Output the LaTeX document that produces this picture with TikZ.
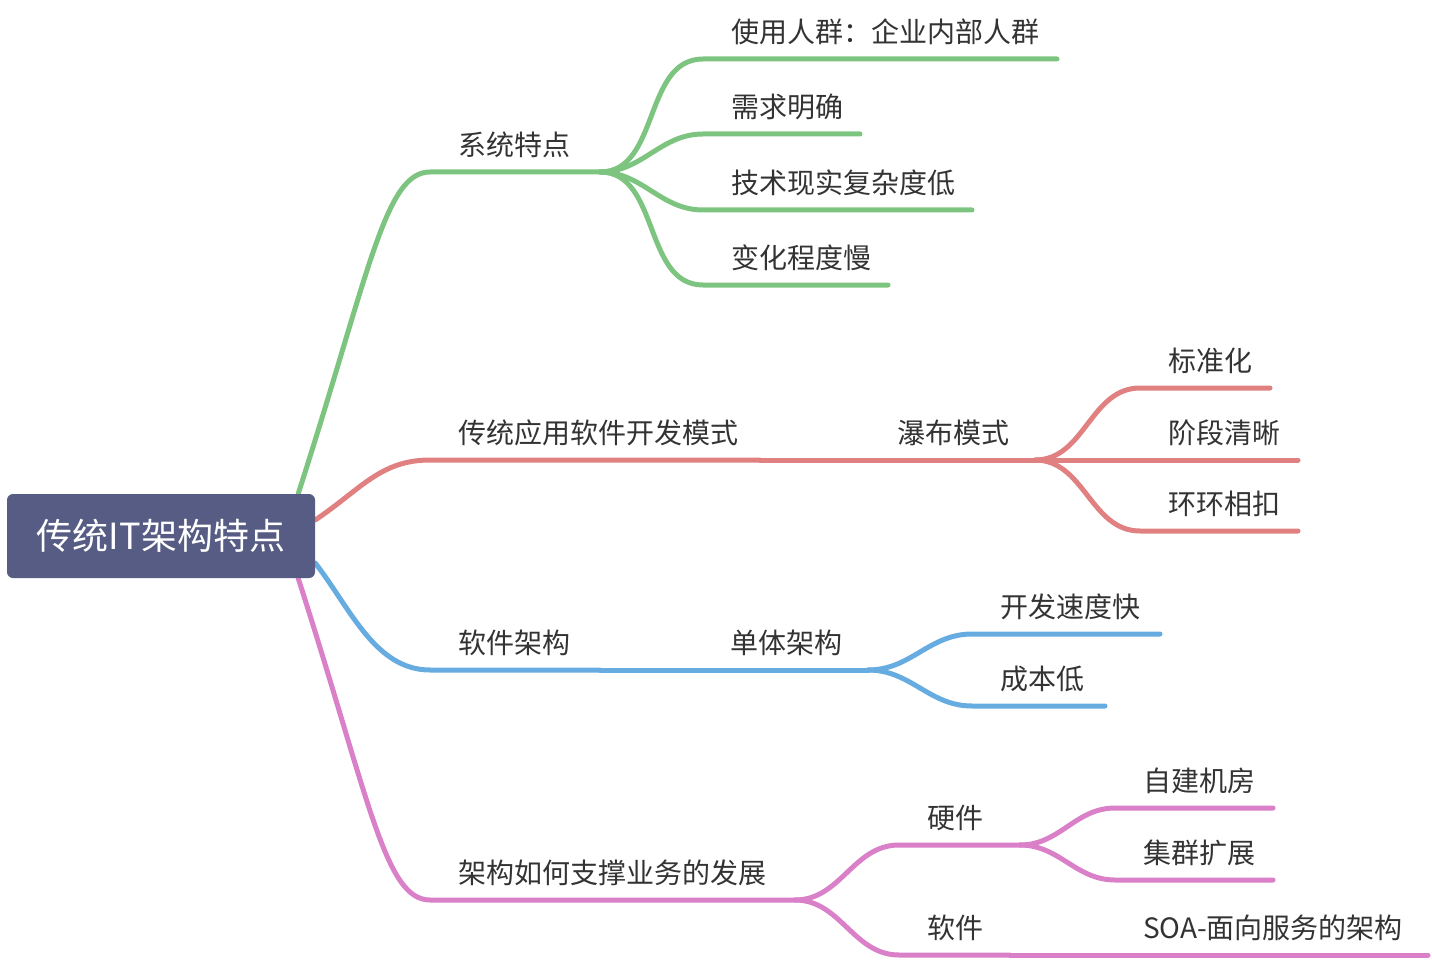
\documentclass[tikz,border=0pt]{standalone}
\usepackage{fontspec}
\setmainfont{Noto Sans CJK SC}
\usetikzlibrary{backgrounds}
\definecolor{rootblue}{RGB}{86,92,132}
\definecolor{gline}{RGB}{124,196,127}
\definecolor{rline}{RGB}{224,128,128}
\definecolor{bline}{RGB}{102,172,224}
\definecolor{pline}{RGB}{218,128,200}
\definecolor{txt}{RGB}{51,51,51}
\tikzset{
  rootbox/.style={fill=rootblue, rounded corners=6pt, minimum width=308pt, minimum height=84pt,
    inner sep=0pt, text=white, text height=27pt, text depth=0pt,
    font=\fontsize{36pt}{42pt}\selectfont},
  topic/.style={anchor=south west, inner xsep=0pt, inner ysep=10.5pt, outer sep=0pt,
    text height=22pt, text depth=6pt, align=left, text=txt,
    font=\fontsize{28pt}{34pt}\selectfont, execute at begin node={\hspace*{28pt}}},
  branch/.style={line width=5pt, line cap=round},
  fork/.style={out=0, in=180}
}
\begin{document}
\begin{tikzpicture}[x=1pt,y=-1pt]
\useasboundingbox (0,0) rectangle (1432,960);
\node[rootbox] (root) at (161,536) {传统IT架构特点};
% green
\node[topic, text width=170] (sys) at (430,172) {系统特点};
\node[topic, text width=354] (users) at (703,59) {使用人群：企业内部人群};
\node[topic, text width=157] (needs) at (703,134) {需求明确};
\node[topic, text width=269] (tech) at (703,210) {技术现实复杂度低};
\node[topic, text width=185] (change) at (703,285) {变化程度慢};
% red
\node[topic, text width=330] (trad) at (430,460) {传统应用软件开发模式};
\node[topic, text width=166] (fall) at (869,460) {瀑布模式};
\node[topic, text width=130] (std) at (1140,388) {标准化};
\node[topic, text width=158] (phase) at (1140,460) {阶段清晰};
\node[topic, text width=158] (chain) at (1140,531) {环环相扣};
% blue
\node[topic, text width=170] (soft) at (430,670) {软件架构};
\node[topic, text width=166] (mono) at (702,670) {单体架构};
\node[topic, text width=188] (fast) at (972,634) {开发速度快};
\node[topic, text width=133] (cheap) at (972,706) {成本低};
% pink
\node[topic, text width=365] (arch) at (430,900) {架构如何支撑业务的发展};
\node[topic, text width=121] (hw) at (899,845) {硬件};
\node[topic, text width=111] (sw) at (899,955) {软件};
\node[topic, text width=158] (room) at (1115,808) {自建机房};
\node[topic, text width=158] (cluster) at (1115,880) {集群扩展};
\node[topic, text width=313] (soa) at (1115,955) {SOA-面向服务的架构};
\begin{scope}[on background layer]
\draw[branch, gline] ([xshift=-17pt]root.north east) .. controls +(72,-224) and +(-45,0) .. (sys.south west) -- (sys.south east);
\draw[branch, gline] (sys.south east) to[fork] (users.south west) -- (users.south east);
\draw[branch, gline] (sys.south east) to[fork] (needs.south west) -- (needs.south east);
\draw[branch, gline] (sys.south east) to[fork] (tech.south west) -- (tech.south east);
\draw[branch, gline] (sys.south east) to[fork] (change.south west) -- (change.south east);
\draw[branch, rline] ([yshift=16pt]root.east) .. controls +(45,-30) and +(-50,0) .. (trad.south west) -- (trad.south east);
\draw[branch, rline] (trad.south east) -- (fall.south west) -- (fall.south east);
\draw[branch, rline] (fall.south east) to[fork] (std.south west) -- (std.south east);
\draw[branch, rline] (fall.south east) -- (phase.south west) -- (phase.south east);
\draw[branch, rline] (fall.south east) to[fork] (chain.south west) -- (chain.south east);
\draw[branch, bline] ([yshift=-27pt]root.east) .. controls +(35,45) and +(-55,0) .. (soft.south west) -- (soft.south east);
\draw[branch, bline] (soft.south east) -- (mono.south west) -- (mono.south east);
\draw[branch, bline] (mono.south east) to[fork] (fast.south west) -- (fast.south east);
\draw[branch, bline] (mono.south east) to[fork] (cheap.south west) -- (cheap.south east);
\draw[branch, pline] ([xshift=-17pt]root.south east) .. controls +(72,224) and +(-45,0) .. (arch.south west) -- (arch.south east);
\draw[branch, pline] (arch.south east) to[fork] (hw.south west) -- (hw.south east);
\draw[branch, pline] (arch.south east) to[fork] (sw.south west) -- (sw.south east);
\draw[branch, pline] (hw.south east) to[fork] (room.south west) -- (room.south east);
\draw[branch, pline] (hw.south east) to[fork] (cluster.south west) -- (cluster.south east);
\draw[branch, pline] (sw.south east) -- (soa.south west) -- (soa.south east);
\end{scope}
\end{tikzpicture}
\end{document}
